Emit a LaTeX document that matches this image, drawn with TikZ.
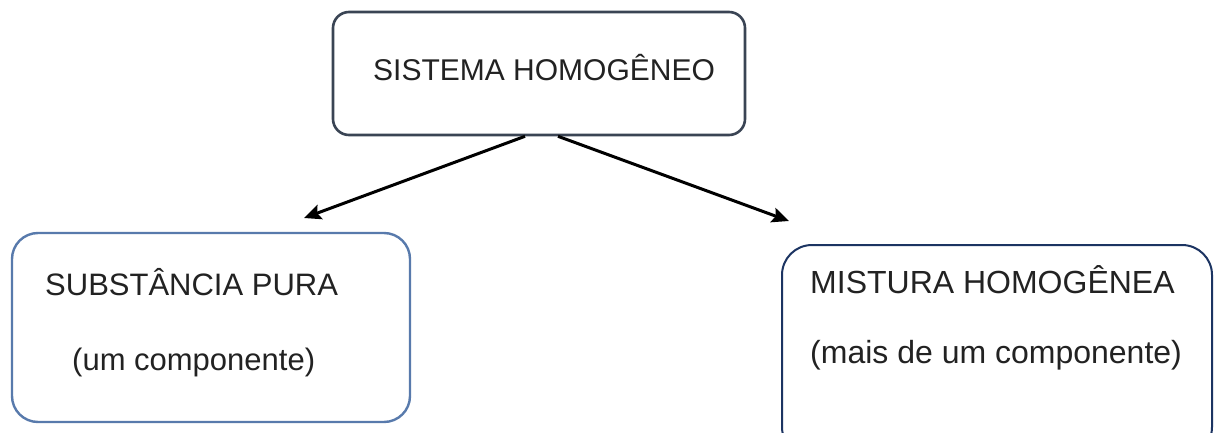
\documentclass[tikz,border=0pt]{standalone}
\usepackage{fontspec}
\setmainfont{Liberation Sans}
\usepackage{tikz}
\usetikzlibrary{arrows.meta}

\definecolor{topline}{RGB}{58,68,84}
\definecolor{pureline}{RGB}{88,122,172}
\definecolor{mixline}{RGB}{28,52,98}
\definecolor{txt}{RGB}{34,34,34}

\begin{document}
\begin{tikzpicture}[x=1pt,y=1pt,
    box/.style={draw,rounded corners=#1,inner sep=0pt},
    box/.default=20pt,
    lbl/.style={anchor=base west,inner sep=0pt,text=txt},
    arr/.style={line width=3pt,-{Stealth[length=17pt,width=15pt,inset=3pt]}}]
  \clip (0,0) rectangle (1214,432);
  \fill[white] (0,0) rectangle (1214,432);
  % boxes
  \node[box=16pt,draw=topline,line width=2.6pt,minimum width=412pt,minimum height=123pt] (sistema) at (539,358.5) {};
  \node[box=26pt,draw=pureline,line width=2.4pt,minimum width=398pt,minimum height=189pt] (pura) at (211,104.5) {};
  \node[box=30pt,draw=mixline,line width=2pt,minimum width=430pt,minimum height=212pt] (mistura) at (997,81) {};
  % texts
  \node[lbl,font=\fontsize{30}{36}\selectfont] (tsistema) at (373,352) {SISTEMA HOMOGÊNEO};
  \node[lbl,font=\fontsize{31}{37}\selectfont] (tpura) at (45,137) {SUBSTÂNCIA PURA};
  \node[lbl,font=\fontsize{31}{37}\selectfont] (tum) at (72,62) {(um componente)};
  \node[lbl,font=\fontsize{32}{38}\selectfont] (tmistura) at (810,139) {MISTURA HOMOGÊNEA};
  \node[lbl,font=\fontsize{32}{38}\selectfont] (tmais) at (810,69) {(mais de um componente)};
  % arrows
  \coordinate (tipL) at (304,214);
  \coordinate (tipR) at (789,211);
  \draw[arr] ([xshift=-14pt]sistema.south) -- (tipL);
  \draw[arr] ([xshift=19pt]sistema.south) -- (tipR);
\end{tikzpicture}
\end{document}
